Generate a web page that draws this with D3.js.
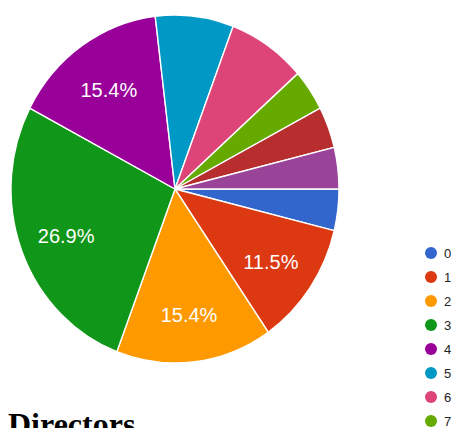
<!DOCTYPE html>
<html>
<head>
<meta charset="utf-8">
<script src="https://cdn.jsdelivr.net/npm/d3@7"></script>
<style>
  html, body { margin: 0; padding: 0; background: #fff; overflow: hidden; }
  svg { display: block; }
</style>
</head>
<body>
<svg id="chart" width="456" height="428"></svg>
<script>
// Responses on a 0–10 scale
const categories = ["0", "1", "2", "3", "4", "5", "6", "7", "8", "9", "10"];
const counts     = [1, 3, 4, 7, 4, 2, 2, 1, 1, 0, 1];
const palette    = ["#3366cc", "#dc3912", "#ff9900", "#109618", "#990099",
                    "#0099c6", "#dd4477", "#66aa00", "#b82e2e", "#316395", "#994499"];
const titleText  = "Directors";

const svg = d3.select("#chart");
const total = d3.sum(counts);

const cx = 175, cy = 189, rx = 164, ry = 174;
const color = d3.scaleOrdinal().domain(categories).range(palette);

const pie = d3.pie()
  .sort(null)
  .value(d => d.value)
  .startAngle(Math.PI / 2)
  .endAngle(Math.PI / 2 + 2 * Math.PI);

const data = categories.map((c, i) => ({ key: c, value: counts[i] }));
const arcs = pie(data).filter(a => a.data.value > 0);

const arc = d3.arc().innerRadius(0).outerRadius(rx);
const labelArc = d3.arc().innerRadius(rx * 0.71).outerRadius(rx * 0.71);

// Pie, slightly taller than wide
const g = svg.append("g")
  .attr("transform", `translate(${cx},${cy}) scale(1,${ry / rx})`);

g.selectAll("path")
  .data(arcs)
  .join("path")
  .attr("d", arc)
  .attr("fill", d => color(d.data.key))
  .attr("stroke", "#fff")
  .attr("stroke-width", 1.4)
  .attr("vector-effect", "non-scaling-stroke");

// Percentage labels on the larger slices
const fmt = d3.format(".1%");
svg.append("g")
  .selectAll("text")
  .data(arcs.filter(d => d.data.value / total >= 0.1))
  .join("text")
  .attr("x", d => cx + labelArc.centroid(d)[0])
  .attr("y", d => cy + 3 + labelArc.centroid(d)[1] * ry / rx)
  .attr("text-anchor", "middle")
  .attr("dominant-baseline", "central")
  .attr("fill", "#fff")
  .style("font-family", "'Liberation Sans', Arial, sans-serif")
  .style("font-size", "20px")
  .text(d => fmt(d.data.value / total));

// Legend
const legendY = d3.scalePoint().domain(categories).range([253, 253 + 24 * (categories.length - 1)]);
const legend = svg.append("g")
  .selectAll("g")
  .data(categories)
  .join("g")
  .attr("transform", c => `translate(431,${legendY(c)})`);

legend.append("circle")
  .attr("r", 6)
  .attr("fill", c => color(c));

legend.append("text")
  .attr("x", 13)
  .attr("dy", "0.36em")
  .attr("fill", "#222")
  .style("font-family", "'Liberation Sans', Arial, sans-serif")
  .style("font-size", "13px")
  .text(c => c);

// Section heading below the chart
svg.append("text")
  .attr("x", 8)
  .attr("y", 435)
  .attr("fill", "#000")
  .style("font-family", "'Liberation Serif', 'Times New Roman', serif")
  .style("font-weight", "bold")
  .style("font-size", "32px")
  .text(titleText);
</script>
</body>
</html>
